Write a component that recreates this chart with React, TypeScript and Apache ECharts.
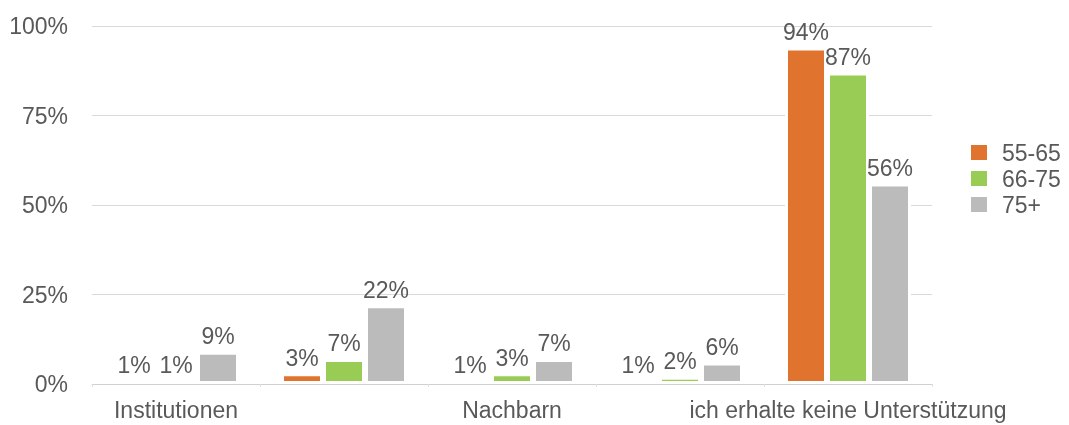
import React, { useEffect, useRef } from "react";
import * as echarts from "echarts";

const categories = ["Institutionen", "Familie", "Nachbarn", "Freunde", "ich erhalte keine Unterstützung"];
const seriesNames = ["55-65", "66-75", "75+"];
const values5565 = [1, 3, 1, 1, 94];
const values6675 = [1, 7, 3, 2, 87];
const values75 = [9, 22, 7, 6, 56];
const yTicks = [0, 25, 50, 75, 100];
const colors = ["#E0742E", "#98CC55", "#BBBBBB"];

const FONT = "'Liberation Sans', Arial, sans-serif";
const TEXT = "#595959";

export default function App() {
  const ref = useRef<HTMLDivElement>(null);
  useEffect(() => {
    if (!ref.current) return;
    const chart = echarts.init(ref.current, null, { renderer: "svg" });
    const data = [values5565, values6675, values75];
    chart.setOption({
      animation: false,
      textStyle: { fontFamily: FONT },
      grid: { left: 92, right: 137, top: 26, bottom: 41 },
      legend: {
        orient: "vertical",
        left: 964,
        top: 136,
        itemWidth: 18,
        itemHeight: 17,
        itemGap: 3,
        icon: "rect",
        data: seriesNames,
        textStyle: { fontSize: 23, color: TEXT, fontFamily: FONT, lineHeight: 22, padding: [0, 0, 0, 9] },
      },
      xAxis: {
        type: "category",
        data: categories,
        z: 5,
        axisLine: { lineStyle: { color: "#D0D0D0", width: 1 } },
        axisTick: { show: true, length: 3, interval: 0, lineStyle: { color: "#E0E0E0" } },
        axisLabel: { interval: 1, fontSize: 23, color: TEXT, fontFamily: FONT, margin: 14 },
      },
      yAxis: {
        type: "value",
        min: 0,
        max: 100,
        interval: 25,
        axisLine: { show: false },
        axisTick: { show: false },
        splitLine: { lineStyle: { color: "#DADADA" } },
        axisLabel: {
          fontSize: 23,
          color: TEXT,
          fontFamily: FONT,
          margin: 24,
          formatter: (v: number) => (yTicks.includes(v) ? v + "%" : ""),
        },
      },
      series: seriesNames.map((name, i) => ({
        name,
        type: "bar",
        data: data[i],
        barWidth: 42,
        barGap: "0%",
        itemStyle: { color: colors[i], borderColor: "#FFFFFF", borderWidth: 3 },
        label: {
          show: true,
          position: "top",
          distance: 4,
          formatter: "{c}%",
          fontSize: 23,
          color: TEXT,
          fontFamily: FONT,
        },
      })),
    });
    return () => chart.dispose();
  }, []);
  return <div ref={ref} style={{ position: "fixed", left: 0, top: 0, width: 1069, height: 425 }} />;
}
